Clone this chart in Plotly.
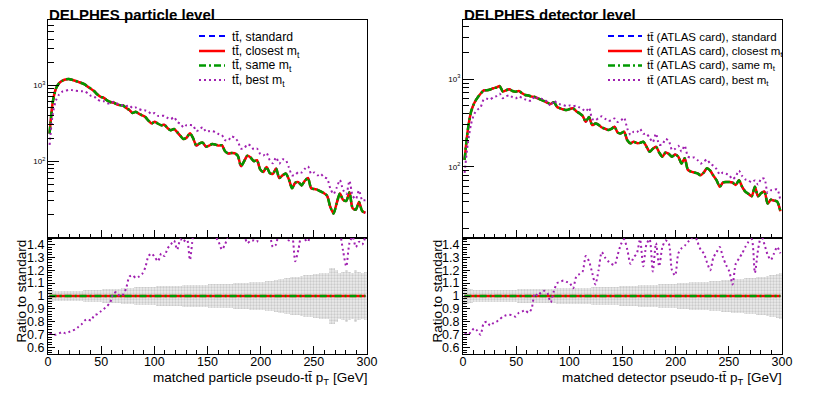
import numpy as np
import plotly.graph_objects as go

# The page body has an 8px margin, so the figure canvas starts at (8, 8) of the window.
OFF = 8
W, H = 830 - OFF, 397 - OFF

# ---------------- data ----------------
bin_width = 3.0
pt_centers = list(np.arange(1.5, 300, bin_width))

# particle level: "standard" spectrum (events per bin)
std_particle = [230, 600, 900, 1060, 1140, 1185, 1200, 1175, 1140, 1100,
                1065, 1020, 950, 890, 830, 750, 700, 680, 630, 600,
                590, 560, 545, 540, 500, 470, 430, 445, 420, 400,
                380, 340, 313, 330, 310, 297, 300, 270, 255, 265,
                240, 215, 195, 205, 233, 200, 160, 171, 175, 155,
                160, 168, 165, 160, 162, 135, 126, 128, 127, 118,
                86, 100, 118, 112, 100, 103, 78, 72, 84, 70,
                68, 80, 60, 65, 69, 58, 44, 52, 53, 48,
                55, 60, 44, 43, 42, 40, 38, 35, 25, 20.5,
                28, 37.6, 31, 30, 39, 24, 23, 29, 22, 21]
# particle level: ratio best m_t / standard
ratio_best_particle = [0.71, 0.70, 0.70, 0.71, 0.72, 0.71, 0.72, 0.73, 0.74, 0.76,
                       0.78, 0.81, 0.82, 0.81, 0.85, 0.86, 0.88, 0.90, 0.92, 0.95,
                       1.02, 1.03, 1.00, 1.01, 1.06, 1.15, 1.16, 1.14, 1.15, 1.17,
                       1.22, 1.31, 1.33, 1.30, 1.27, 1.33, 1.31, 1.37, 1.40, 1.43,
                       1.36, 1.44, 1.42, 1.46, 1.28, 1.47, 1.55, 1.52, 1.60, 1.58,
                       1.55, 1.48, 1.46, 1.42, 1.36, 1.40, 1.48, 1.65, 1.60, 1.55,
                       1.70, 1.48, 1.41, 1.43, 1.43, 1.42, 1.60, 1.65, 1.52, 1.48,
                       1.38, 1.40, 1.55, 1.62, 1.50, 1.43, 1.48, 1.27, 1.36, 1.48,
                       1.44, 1.42, 1.55, 1.65, 1.55, 1.70, 1.62, 1.68, 1.75, 1.80,
                       1.60, 1.50, 1.35, 1.23, 1.41, 1.46, 1.38, 1.42, 1.40, 1.46]
# particle level: relative stat. uncertainty of standard
relerr_particle = [0.05, 0.045, 0.04, 0.04, 0.04, 0.04, 0.04, 0.04, 0.04, 0.042,
                   0.042, 0.044, 0.045, 0.046, 0.047, 0.048, 0.05, 0.052, 0.053, 0.055,
                   0.056, 0.057, 0.058, 0.06, 0.062, 0.063, 0.065, 0.066, 0.067, 0.068,
                   0.07, 0.07, 0.072, 0.072, 0.074, 0.075, 0.075, 0.076, 0.078, 0.078,
                   0.08, 0.08, 0.082, 0.082, 0.083, 0.084, 0.085, 0.086, 0.087, 0.088,
                   0.09, 0.09, 0.09, 0.092, 0.093, 0.095, 0.095, 0.096, 0.098, 0.1,
                   0.1, 0.102, 0.104, 0.105, 0.106, 0.108, 0.11, 0.112, 0.115, 0.118,
                   0.12, 0.125, 0.13, 0.135, 0.14, 0.14, 0.145, 0.15, 0.15, 0.155,
                   0.16, 0.16, 0.165, 0.17, 0.17, 0.175, 0.18, 0.18, 0.22, 0.22,
                   0.2, 0.18, 0.19, 0.2, 0.19, 0.18, 0.2, 0.19, 0.18, 0.19]

# detector level (ATLAS card)
std_detector = [120, 260, 420, 530, 610, 680, 740, 745, 760, 785,
                800, 830, 720, 745, 765, 730, 716, 730, 690, 657,
                650, 630, 625, 600, 580, 560, 535, 520, 545, 480,
                463, 450, 443, 455, 463, 430, 406, 380, 326, 370,
                298, 310, 300, 280, 272, 262, 270, 286, 245, 240,
                251, 200, 185, 193, 186, 187, 193, 170, 148, 160,
                169, 145, 130, 145, 140, 130, 138, 130, 109, 125,
                92, 88, 86, 84, 80, 86, 96, 90, 79, 70,
                59, 66, 67, 67, 66, 62, 70, 59, 52, 49,
                46, 59, 46, 50, 52, 38, 42, 41, 40, 31]
ratio_best_detector = [0.71, 0.70, 0.72, 0.75, 0.73, 0.70, 0.79, 0.80, 0.77, 0.79,
                       0.80, 0.82, 0.84, 0.85, 0.855, 0.85, 0.84, 0.87, 0.88, 0.89,
                       0.87, 0.90, 1.02, 1.00, 1.03, 1.04, 1.02, 0.95, 1.04, 1.10,
                       1.11, 1.12, 1.11, 1.10, 1.06, 1.15, 1.17, 1.19, 1.31, 1.27,
                       1.18, 1.09, 1.20, 1.34, 1.30, 1.27, 1.25, 1.24, 1.32, 1.40,
                       1.44, 1.36, 1.25, 1.30, 1.33, 1.44, 1.23, 1.40, 1.44, 1.19,
                       1.41, 1.23, 1.38, 1.43, 1.41, 1.20, 1.16, 1.33, 1.37, 1.39,
                       1.42, 1.44, 1.48, 1.42, 1.36, 1.33, 1.26, 1.20, 1.30, 1.34,
                       1.38, 1.30, 1.24, 1.19, 1.09, 1.25, 1.29, 1.33, 1.38, 1.42,
                       1.44, 1.18, 1.36, 1.47, 1.40, 1.32, 1.28, 1.33, 1.38, 1.33]
relerr_detector = [0.07, 0.06, 0.055, 0.05, 0.05, 0.05, 0.05, 0.05, 0.05, 0.05,
                   0.05, 0.05, 0.05, 0.05, 0.05, 0.05, 0.05, 0.052, 0.052, 0.053,
                   0.053, 0.054, 0.055, 0.055, 0.056, 0.057, 0.057, 0.058, 0.058, 0.059,
                   0.06, 0.06, 0.06, 0.061, 0.062, 0.062, 0.063, 0.064, 0.065, 0.065,
                   0.066, 0.067, 0.068, 0.068, 0.07, 0.07, 0.07, 0.072, 0.073, 0.074,
                   0.075, 0.076, 0.078, 0.08, 0.08, 0.082, 0.083, 0.084, 0.085, 0.086,
                   0.088, 0.09, 0.09, 0.092, 0.093, 0.095, 0.096, 0.098, 0.1, 0.1,
                   0.102, 0.105, 0.106, 0.108, 0.11, 0.11, 0.112, 0.114, 0.115, 0.118,
                   0.12, 0.122, 0.124, 0.125, 0.128, 0.13, 0.132, 0.134, 0.136, 0.138,
                   0.14, 0.142, 0.145, 0.148, 0.15, 0.155, 0.16, 0.165, 0.17, 0.175]

legend_particle = ["t\u0074\u0304, standard", "t\u0074\u0304, closest m<sub>t</sub>",
                   "t\u0074\u0304, same m<sub>t</sub>", "t\u0074\u0304, best m<sub>t</sub>"]
legend_detector = ["t\u0074\u0304 (ATLAS card), standard", "t\u0074\u0304 (ATLAS card), closest m<sub>t</sub>",
                   "t\u0074\u0304 (ATLAS card), same m<sub>t</sub>", "t\u0074\u0304 (ATLAS card), best m<sub>t</sub>"]

# ---------------- styles ----------------
FONT = "Liberation Sans, Arial, Helvetica, sans-serif"
C_STD, C_CLO, C_SAME, C_BEST = "#0000ff", "#ff0000", "#009900", "#a020b0"
styles = [
    dict(color=C_STD, width=2, dash="6px,4px"),
    dict(color=C_CLO, width=2.5, dash="solid"),
    dict(color=C_SAME, width=2.5, dash="7px,3px,2px,3px"),
    dict(color=C_BEST, width=2, dash="2px,3px"),
]


def px_x(p):
    """window pixel -> paper fraction"""
    return (p - OFF) / W


def px_y(p):
    return 1 - (p - OFF) / H


fig = go.Figure()

panels = [
    dict(std=std_particle, ratio=ratio_best_particle, err=relerr_particle,
         main=("x", "y"), rat=("x2", "y2"), labels=legend_particle),
    dict(std=std_detector, ratio=ratio_best_detector, err=relerr_detector,
         main=("x3", "y3"), rat=("x4", "y4"), labels=legend_detector),
]

for p in panels:
    std = np.array(p["std"], dtype=float)
    closest = std.copy()
    same = std.copy()
    best = std * np.array(p["ratio"])
    series = [std, closest, same, best]
    # error band in ratio
    err = np.array(p["err"])
    fig.add_trace(go.Bar(x=pt_centers, y=2 * err, base=1 - err, width=bin_width,
                         xaxis=p["rat"][0], yaxis=p["rat"][1],
                         marker=dict(color="#dedede", line_width=0,
                                     pattern=dict(shape=".", fgcolor="#a8a8a8", bgcolor="#ececec",
                                                  size=3, solidity=0.45)),
                         showlegend=False, hoverinfo="skip"))
    for s, st, name in zip(series, styles, p["labels"]):
        fig.add_trace(go.Scatter(x=pt_centers, y=s, mode="lines", name=name,
                                 line=dict(color=st["color"], width=st["width"], dash=st["dash"],
                                           shape="spline", smoothing=0.7),
                                 xaxis=p["main"][0], yaxis=p["main"][1], showlegend=False))
        fig.add_trace(go.Scatter(x=pt_centers, y=s / std, mode="lines", name=name,
                                 line=dict(color=st["color"], width=st["width"], dash=st["dash"],
                                           shape="spline", smoothing=0.7),
                                 xaxis=p["rat"][0], yaxis=p["rat"][1], showlegend=False))

# ---------------- axes ----------------
xdom_l = [px_x(48), px_x(367)]
xdom_r = [px_x(463), px_x(782)]
ydom_main = [px_y(238), px_y(20)]
ydom_rat = [px_y(354), px_y(238)]

common_ax = dict(showline=True, linecolor="black", linewidth=1, mirror=True,
                 showgrid=False, zeroline=False, ticks="inside", tickcolor="black",
                 automargin=False,
                 tickfont=dict(family=FONT, size=12.5, color="black"))

xmain = dict(common_ax, range=[0, 300], dtick=50, tick0=0, ticklen=8, showticklabels=False,
             minor=dict(ticks="inside", dtick=10, tick0=0, ticklen=4, tickcolor="black"))
xrat = dict(common_ax, range=[0, 300], dtick=50, tick0=0, ticklen=8, showticklabels=True,
            ticklabelstandoff=-4,
            minor=dict(ticks="inside", dtick=10, tick0=0, ticklen=4, tickcolor="black"))
yrat = dict(common_ax, range=[0.55, 1.45], tickmode="array",
            tickvals=[0.6, 0.7, 0.8, 0.9, 1.0, 1.1, 1.2, 1.3, 1.4],
            ticktext=["0.6", "0.7", "0.8", "0.9", "1", "1.1", "1.2", "1.3", "1.4"],
            ticklen=7, minor=dict(ticks="inside", tickmode="linear", dtick=0.02, tick0=0.0,
                                  ticklen=4, tickcolor="black"))
log_minor = [20, 30, 40, 50, 60, 70, 80, 90, 200, 300, 400, 500, 600, 700, 800, 900,
             2000, 3000, 4000, 5000, 6000, 7000]
ylog = dict(common_ax, type="log", tickmode="array", tickvals=[100, 1000],
            ticktext=["10<sup>2</sup>", "10<sup>3</sup>"], ticklen=11,
            tickfont=dict(family=FONT, size=8, color="black"),
            minor=dict(ticks="inside", tickmode="array", tickvals=log_minor, ticklen=6,
                       tickcolor="black"))

fig.update_layout(
    xaxis=dict(xmain, domain=xdom_l, anchor="y"),
    yaxis=dict(ylog, domain=ydom_main, anchor="x", range=[0.99, 3.855]),
    xaxis2=dict(xrat, domain=xdom_l, anchor="y2"),
    yaxis2=dict(yrat, domain=ydom_rat, anchor="x2"),
    xaxis3=dict(xmain, domain=xdom_r, anchor="y3"),
    yaxis3=dict(ylog, domain=ydom_main, anchor="x3", range=[1.187, 3.673]),
    xaxis4=dict(xrat, domain=xdom_r, anchor="y4"),
    yaxis4=dict(yrat, domain=ydom_rat, anchor="x4"),
    barmode="overlay", bargap=0,
    width=W, height=H, margin=dict(l=0, r=0, t=0, b=0, pad=0, autoexpand=False),
    paper_bgcolor="white", plot_bgcolor="white",
    font=dict(family=FONT, color="black"),
    showlegend=False,
)

# ---------------- text & legends ----------------
ann = []
for x0, title in [(48, "DELPHES particle level"), (463, "DELPHES detector level")]:
    ann.append(dict(text="<b>" + title + "</b>", x=px_x(x0 - 1), y=px_y(14), xref="paper", yref="paper",
                    xanchor="left", yanchor="middle", showarrow=False,
                    font=dict(family=FONT, size=15, color="black")))
for xr, lab in [(367, "matched particle pseudo-t\u0074\u0304 p<sub>T</sub> [GeV]"),
                (782, "matched detector pseudo-t\u0074\u0304 p<sub>T</sub> [GeV]")]:
    ann.append(dict(text=lab, x=px_x(xr + 2), y=px_y(378), xref="paper", yref="paper",
                    xanchor="right", yanchor="middle", showarrow=False,
                    font=dict(family=FONT, size=13.5, color="black")))
for xc in [20.5, 436.5]:
    ann.append(dict(text="Ratio to standard", x=px_x(xc), y=px_y(291), xref="paper", yref="paper",
                    xanchor="center", yanchor="middle", textangle=-90, showarrow=False,
                    font=dict(family=FONT, size=13.5, color="black")))

shapes = []
rows = [36, 51, 65.5, 80]
for (lx0, lx1, tx, fs), labels in [((199, 225, 230, 12.2), legend_particle),
                                   ((608, 642, 645, 11.5), legend_detector)]:
    for ry, st, lab in zip(rows, styles, labels):
        shapes.append(dict(type="line", xref="paper", yref="paper",
                           x0=px_x(lx0), x1=px_x(lx1), y0=px_y(ry), y1=px_y(ry),
                           line=dict(color=st["color"], width=st["width"], dash=st["dash"])))
        ann.append(dict(text=lab, x=px_x(tx), y=px_y(ry + 1), xref="paper", yref="paper",
                        xanchor="left", yanchor="middle", showarrow=False,
                        font=dict(family=FONT, size=fs, color="black")))

fig.update_layout(annotations=ann, shapes=shapes)
fig.write_html("out.html")
